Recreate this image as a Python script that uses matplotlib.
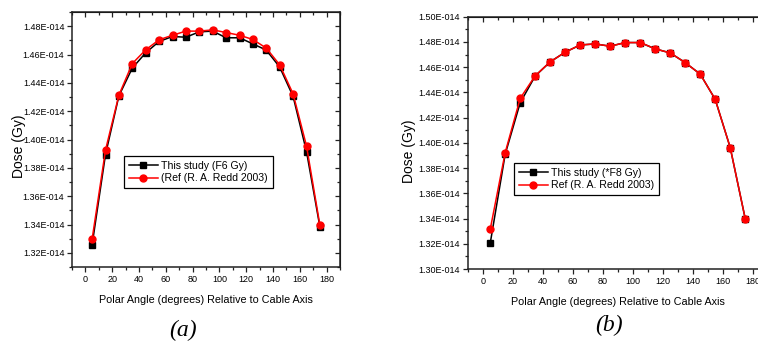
import matplotlib
matplotlib.use("Agg")
import matplotlib.pyplot as plt
from matplotlib.ticker import MultipleLocator, FuncFormatter
from matplotlib import font_manager

names = {f.name for f in font_manager.fontManager.ttflist}
NARROW = 'Liberation Sans Narrow' if 'Liberation Sans Narrow' in names else 'Liberation Sans'
SCALE = 1.0 if NARROW == 'Liberation Sans Narrow' else 0.84

plt.rcParams['font.family'] = [NARROW, 'DejaVu Sans']

angles = [5, 15, 25, 35, 45, 55, 65, 75, 85, 95, 105, 115, 125, 135, 145, 155, 165, 175]

# Panel (a) values, units of 1e-14 Gy
a_study = [1.3256, 1.3894, 1.4308, 1.4504, 1.4612, 1.4692, 1.4727, 1.4722, 1.4760,
           1.4765, 1.4718, 1.4718, 1.4675, 1.4631, 1.4511, 1.4304, 1.3915, 1.3383]
a_ref = [1.3296, 1.3925, 1.4313, 1.4536, 1.4633, 1.4704, 1.4736, 1.4765, 1.4765,
         1.4774, 1.4755, 1.4736, 1.4706, 1.4645, 1.4527, 1.4322, 1.3955, 1.3395]

# Panel (b) values, units of 1e-14 Gy
b_study = [1.3203, 1.3910, 1.4318, 1.4530, 1.4642, 1.4719, 1.4776, 1.4784, 1.4766,
           1.4795, 1.4795, 1.4745, 1.4713, 1.4636, 1.4545, 1.4345, 1.3963, 1.3400]
b_ref = [1.3314, 1.3923, 1.4353, 1.4532, 1.4642, 1.4719, 1.4776, 1.4784, 1.4766,
         1.4795, 1.4795, 1.4745, 1.4713, 1.4636, 1.4545, 1.4345, 1.3963, 1.3400]

labels_a = ["This study (F6 Gy)", "(Ref (R. A. Redd 2003)"]
labels_b = ["This study (*F8 Gy)", "Ref (R. A. Redd 2003)"]

W, H = 758, 343
fig = plt.figure(figsize=(W / 100, H / 100), dpi=100)

def fmt(v, pos):
    return "%.2fE-014" % v

def make_panel(rect, study, ref, labels, ylim, yticks_major, leg_anchor, caption, cap_xy, ylabel_xy):
    ax = fig.add_axes(rect)
    ax.plot(angles, study, color='black', lw=1.1, marker='s', ms=4.2,
            mfc='black', mec='black', label=labels[0], zorder=3)
    ax.plot(angles, ref, color='red', lw=1.1, marker='o', ms=5,
            mfc='red', mec='red', label=labels[1], zorder=4)
    ax.set_xlim(-10, 190)
    ax.set_ylim(*ylim)
    ax.xaxis.set_major_locator(MultipleLocator(20))
    ax.xaxis.set_minor_locator(MultipleLocator(10))
    ax.set_yticks(yticks_major)
    ax.yaxis.set_minor_locator(MultipleLocator(0.01))
    ax.yaxis.set_major_formatter(FuncFormatter(fmt))
    ax.tick_params(which='both', direction='out', labelsize=7.7 * SCALE, width=0.9,
                   color='#222222', pad=2)
    ax.tick_params(which='major', length=3.5)
    ax.tick_params(which='minor', length=2)
    for s in ax.spines.values():
        s.set_linewidth(1.1)
        s.set_color('#222222')
    top = ax.secondary_xaxis('top')
    top.xaxis.set_major_locator(MultipleLocator(20))
    top.xaxis.set_minor_locator(MultipleLocator(10))
    top.tick_params(which='both', direction='in', labeltop=False, width=0.9, color='#222222')
    top.tick_params(which='major', length=3.5)
    top.tick_params(which='minor', length=2.5)
    right = ax.secondary_yaxis('right')
    right.set_yticks(yticks_major)
    right.yaxis.set_minor_locator(MultipleLocator(0.01))
    right.tick_params(which='both', direction='in', labelright=False, width=0.9, color='#222222')
    right.tick_params(which='major', length=3.5)
    right.tick_params(which='minor', length=2)
    ax.set_xlabel("Polar Angle (degrees) Relative to Cable Axis", fontsize=9.2 * SCALE, labelpad=8)
    ax.set_ylabel("Dose (Gy)", fontsize=10, family=['Liberation Sans', 'DejaVu Sans'])
    ax.yaxis.set_label_coords(ylabel_xy[0], ylabel_xy[1], transform=fig.transFigure)
    ax.yaxis.label.set_va('center')
    leg = ax.legend(loc='lower left', bbox_to_anchor=leg_anchor,
                    prop={'size': 9.0 * SCALE},
                    frameon=True, fancybox=False, edgecolor='black', framealpha=1,
                    handlelength=2.8, borderpad=0.45, labelspacing=0.25,
                    handletextpad=0.3, borderaxespad=0)
    leg.get_frame().set_linewidth(0.9)
    fig.text(cap_xy[0], cap_xy[1], caption, fontsize=17, style='italic',
             family=['Liberation Serif', 'DejaVu Serif'], ha='center', va='center')
    return ax

make_panel([72 / W, (H - 267) / H, 268 / W, 255 / H], a_study, a_ref, labels_a,
           (1.31, 1.49), [1.32, 1.34, 1.36, 1.38, 1.40, 1.42, 1.44, 1.46, 1.48],
           (0.194, 0.31), "(a)", (183 / W, 1 - 330 / H), (19 / W, 1 - 146 / H))
make_panel([467.7 / W, (H - 269) / H, 300 / W, 252.3 / H], b_study, b_ref, labels_b,
           (1.30, 1.50), [1.30, 1.32, 1.34, 1.36, 1.38, 1.40, 1.42, 1.44, 1.46, 1.48, 1.50],
           (0.154, 0.293), "(b)", (609 / W, 1 - 325 / H), (409 / W, 1 - 151 / H))

fig.savefig("out.png", dpi=100)
